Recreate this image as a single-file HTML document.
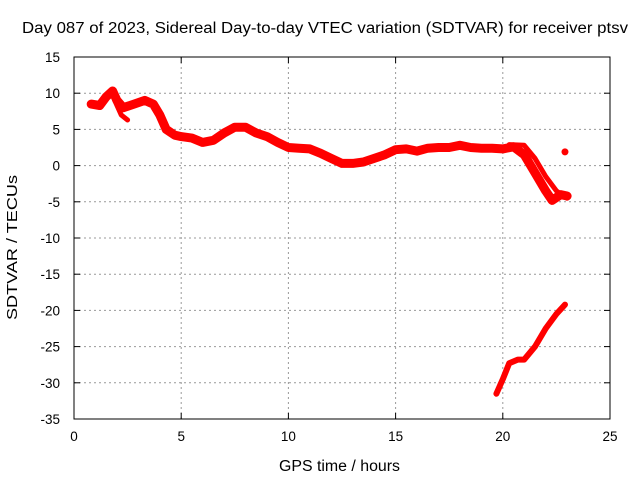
<!DOCTYPE html>
<html><head><meta charset="utf-8"><style>
body{margin:0;background:#fff;}
svg text{font-family:"Liberation Sans",sans-serif;font-size:13.5px;fill:#000;}
svg text.ttl{font-size:15.5px;}
svg text.yt{font-size:14.5px;}
</style></head><body>
<svg id="chart" width="640" height="480" xmlns="http://www.w3.org/2000/svg">
<text class="ttl" x="22" y="33" textLength="606" lengthAdjust="spacingAndGlyphs">Day 087 of 2023, Sidereal Day-to-day VTEC variation (SDTVAR) for receiver ptsv</text>
<text class="ttl" x="279" y="471" textLength="121" lengthAdjust="spacingAndGlyphs">GPS time / hours</text>
<text class="yt" transform="translate(17,320) rotate(-90)" textLength="145" lengthAdjust="spacingAndGlyphs">SDTVAR / TECUs</text>
<g id="grid"></g><g id="series"></g>
<rect x="74" y="57" width="536" height="362" fill="none" stroke="#000" stroke-width="1"/>
</svg>
<script>
const xTicks=[0,5,10,15,20,25];
const yTicks=[15,10,5,0,-5,-10,-15,-20,-25,-30,-35];
const mainHours=[0.8,1.2,1.5,1.8,2.0,2.3,2.8,3.3,3.7,4.0,4.3,4.7,5,5.5,6,6.5,7,7.5,8,8.5,9,9.5,10,10.5,11,11.5,12,12.5,13,13.5,14,14.5,15,15.5,16,16.5,17,17.5,18,18.5,19,19.5,20,20.5,21,21.5,22,22.3,22.7,23];
const mainValues=[8.5,8.3,9.5,10.3,9,8,8.5,9,8.5,7,5,4.2,4,3.8,3.2,3.5,4.5,5.3,5.3,4.5,4,3.2,2.5,2.4,2.3,1.7,1,0.3,0.3,0.5,1,1.5,2.2,2.3,2,2.4,2.5,2.5,2.8,2.5,2.4,2.4,2.3,2.6,1.5,-1,-3.5,-4.8,-4,-4.2];
const branch1Hours=[1.9,2.2,2.5];
const branch1Values=[9,7,6.3];
const branch2Hours=[20.3,21,21.5,22,22.5,23];
const branch2Values=[2.9,2.8,1,-1.5,-3.5,-4.5];
const lowerHours=[19.7,20,20.3,20.7,21,21.5,22,22.5,22.9];
const lowerValues=[-31.5,-29.5,-27.3,-26.8,-26.8,-25,-22.5,-20.5,-19.2];
const dotHours=[22.9];
const dotValues=[1.9];
const X0=74,X1=610,Y0=57,Y1=419;
const xs=v=>X0+(v-0)/25*(X1-X0);
const ys=v=>Y0+(15-v)/50*(Y1-Y0);
const NS="http://www.w3.org/2000/svg";
const svg=document.getElementById('chart');
const grid=document.getElementById('grid');
const series=document.getElementById('series');
function mk(t,a,p){const e=document.createElementNS(NS,t);for(const k in a)e.setAttribute(k,a[k]);p.appendChild(e);return e;}
xTicks.forEach(t=>{const x=xs(t);
 if(t>0&&t<25){const g=mk('line',{x1:x,x2:x,y1:Y0,y2:Y1,stroke:'#999','stroke-dasharray':'2,3'},grid);
 
 }
 mk('line',{x1:x,x2:x,y1:Y1,y2:Y1-6,stroke:'#000'},grid);
 mk('line',{x1:x,x2:x,y1:Y0,y2:Y0+6,stroke:'#000'},grid);
 const l=mk('text',{x:x,y:Y1+22,'text-anchor':'middle'},svg);l.textContent=t;
 
 });
yTicks.forEach(t=>{const y=ys(t);
 if(t<15&&t>-35){const g=mk('line',{x1:X0,x2:X1,y1:y,y2:y,stroke:'#999','stroke-dasharray':'2,3'},grid);
 
 }
 mk('line',{x1:X0,x2:X0+6,y1:y,y2:y,stroke:'#000'},grid);
 mk('line',{x1:X1,x2:X1-6,y1:y,y2:y,stroke:'#000'},grid);
 const l=mk('text',{x:X0-14,y:y+5,'text-anchor':'end'},svg);l.textContent=t;
 
 });
function line(h,v,name,w){const pts=h.map((x,i)=>xs(x).toFixed(1)+','+ys(v[i]).toFixed(1)).join(' ');
 const p=mk('polyline',{points:pts,fill:'none',stroke:'#f00','stroke-width':w,'stroke-linejoin':'round','stroke-linecap':'round'},series);
 
 }
line(mainHours,mainValues,'sdtvar-main-series',9);
line(branch1Hours,branch1Values,'sdtvar-branch-early',5);
line(branch2Hours,branch2Values,'sdtvar-branch-late',5);
line(lowerHours,lowerValues,'sdtvar-lower-series',6);
dotHours.forEach((h,i)=>{const c=mk('circle',{cx:xs(h),cy:ys(dotValues[i]),r:3.5,fill:'#f00'},series);
 
 });
</script>
</body></html>
